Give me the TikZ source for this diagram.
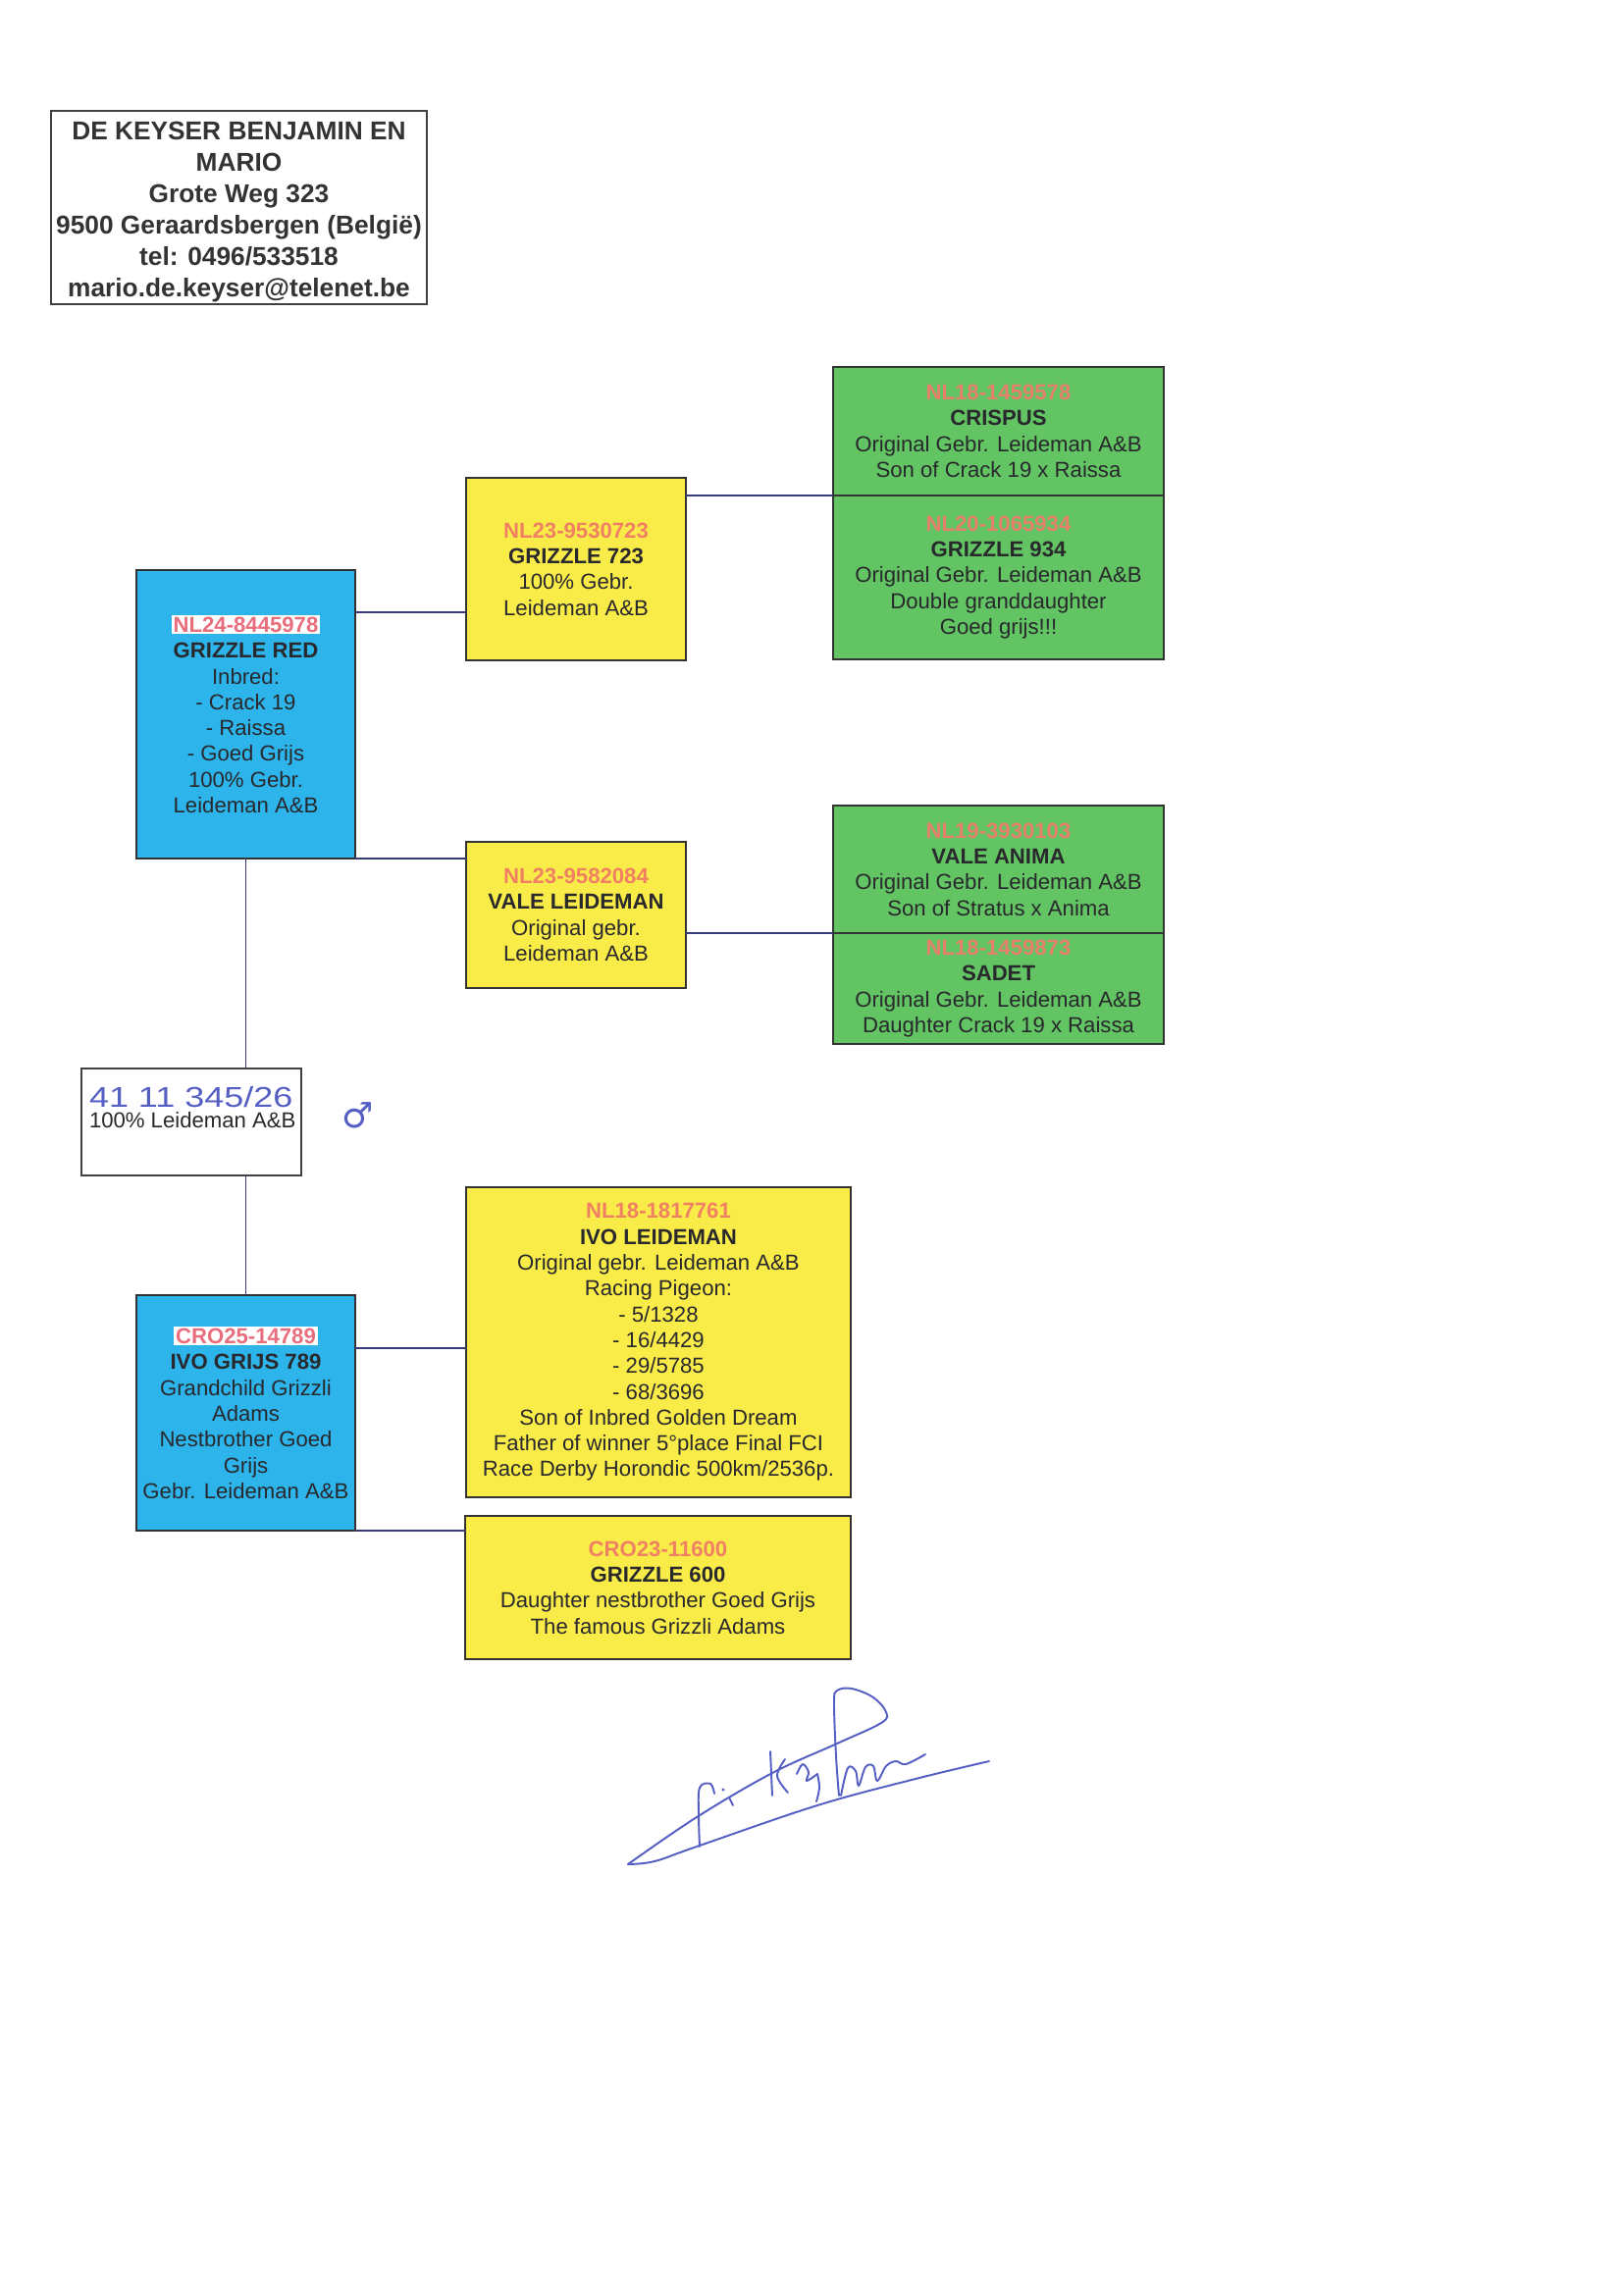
\documentclass[tikz,border=0pt]{standalone}
\usepackage{fontspec}
\usepackage{graphicx}
\setmainfont{Liberation Sans}
\newfontfamily\symfont{DejaVu Sans}
\definecolor{boxblue}{RGB}{45,180,235}
\definecolor{boxyellow}{RGB}{250,236,72}
\definecolor{boxgreen}{RGB}{98,196,98}
\definecolor{idpink}{RGB}{232,110,125}
\definecolor{idorange}{RGB}{240,128,100}
\definecolor{idgreen}{RGB}{232,128,110}
\definecolor{ink}{RGB}{40,40,45}
\definecolor{linkblue}{RGB}{55,60,120}
\definecolor{pen}{RGB}{85,95,195}
\newdimen\px \px=0.127mm
\newcommand{\idhl}[1]{{\setlength{\fboxsep}{0.6pt}\colorbox{white}{\textcolor{idpink}{\textbf{#1}}}}}
\newcommand{\idy}[1]{\textcolor{idorange}{\textbf{#1}}}
\newcommand{\idg}[1]{\textcolor{idgreen}{\textbf{#1}}}
\begin{document}
\begin{tikzpicture}[x=0.127mm,y=-0.127mm,
  every node/.style={inner sep=0pt, outer sep=0pt, text=ink},
  pbox/.style={draw=black!80, line width=0.6pt, align=center, font=\fontsize{8}{9.5}\selectfont},
  bluebox/.style={pbox, fill=boxblue},
  yellowbox/.style={pbox, fill=boxyellow},
  greenbox/.style={pbox, fill=boxgreen, minimum width=337\px},
  link/.style={draw=linkblue, line width=0.5pt},
  sig/.style={draw=pen, line width=0.7pt, line cap=round, line join=round}]
\fill[white] (0,0) rectangle (1654,2337);
\useasboundingbox (0,0) rectangle (1654,2337);

% header
\node[draw=black!75, line width=0.6pt, minimum width=383\px, minimum height=197\px] (hdr) at (243.5,211.5) {};
\node[align=center, font=\fontsize{9.5}{11.5}\selectfont\bfseries, text=black!80] (hdrtext) at (243.5,216)
  {DE KEYSER BENJAMIN EN\\MARIO\\Grote Weg 323\\9500 Geraardsbergen (België)\\tel: 0496/533518\\mario.de.keyser@telenet.be};

% generation 3 (green)
\node[greenbox, minimum height=131\px] (g1) at (1017.5,439.5)
  {\idg{NL18-1459578}\\\textbf{CRISPUS}\\Original Gebr. Leideman A\&B\\Son of Crack 19 x Raissa};
\node[greenbox, minimum height=167\px] (g2) at (1017.5,588.5)
  {\idg{NL20-1065934}\\\textbf{GRIZZLE 934}\\Original Gebr. Leideman A\&B\\Double granddaughter\\Goed grijs!!!};
\node[greenbox, minimum height=130\px] (g3) at (1017.5,886)
  {\idg{NL19-3930103}\\\textbf{VALE ANIMA}\\Original Gebr. Leideman A\&B\\Son of Stratus x Anima};
\node[greenbox, minimum height=113\px] (g4) at (1017.5,1007.5)
  {\idg{NL18-1459873}\\\textbf{SADET}\\Original Gebr. Leideman A\&B\\Daughter Crack 19 x Raissa};

% generation 2 (yellow)
\node[yellowbox, minimum width=224\px, minimum height=186\px] (y1) at (587,580)
  {\idy{NL23-9530723}\\\textbf{GRIZZLE 723}\\100\% Gebr.\\Leideman A\&B};
\node[yellowbox, minimum width=224\px, minimum height=149\px] (y2) at (587,932.5)
  {\idy{NL23-9582084}\\\textbf{VALE LEIDEMAN}\\Original gebr.\\Leideman A\&B};
\node[yellowbox, minimum width=392\px, minimum height=316\px] (y3) at (671,1368)
  {\idy{NL18-1817761}\\\textbf{IVO LEIDEMAN}\\Original gebr. Leideman A\&B\\Racing Pigeon:\\- 5/1328\\- 16/4429\\- 29/5785\\- 68/3696\\Son of Inbred Golden Dream\\Father of winner 5°place Final FCI\\Race Derby Horondic 500km/2536p.};
\node[yellowbox, minimum width=393\px, minimum height=146\px] (y4) at (670.5,1618)
  {\idy{CRO23-11600}\\\textbf{GRIZZLE 600}\\Daughter nestbrother Goed Grijs\\The famous Grizzli Adams};

% generation 1 (blue)
\node[bluebox, minimum width=223\px, minimum height=294\px] (b1) at (250.5,728)
  {\idhl{NL24-8445978}\\\textbf{GRIZZLE RED}\\Inbred:\\- Crack 19\\- Raissa\\- Goed Grijs\\100\% Gebr.\\Leideman A\&B};
\node[bluebox, minimum width=223\px, minimum height=240\px] (b2) at (250.5,1440)
  {\idhl{CRO25-14789}\\\textbf{IVO GRIJS 789}\\Grandchild Grizzli\\Adams\\Nestbrother Goed\\Grijs\\Gebr. Leideman A\&B};

% child box
\node[draw=black!75, line width=0.6pt, fill=white, minimum width=224\px, minimum height=109\px] (sire) at (195,1143.5) {};
\node[anchor=base west, font=\fontsize{8}{9.5}\selectfont] (sirelbl) at (91,1149) {100\% Leideman A\&B};
\node[anchor=base west, text=pen, font=\fontsize{10}{10}\selectfont] (hw) at (91,1128) {\scalebox{1.3}[1.05]{41 11 345/26}};
\node[text=pen, font=\symfont\fontsize{13}{13}\selectfont] (male) at (365,1137) {♂};

% connectors
\draw[link] (b1.east |- 0,624) -- (y1.west |- 0,624);
\draw[link] (b1.south east) -- (b1.south east -| y2.west);
\draw[link] (y1.east |- g1.south) -- (g1.south west);
\draw[link] (y2.east |- g3.south) -- (g3.south west);
\draw[link] (b1.south) -- (b1.south |- sire.north);
\draw[link] (sire.south -| b2.north) -- (b2.north);
\draw[link] (b2.east |- 0,1374) -- (y3.west |- 0,1374);
\draw[link] (b2.south east) -- (b2.south east -| y4.west);

% signature
\draw[sig] plot[smooth, tension=0.6] coordinates {(640,1900) (710,1852) (787,1807) (853,1777) (898,1756) (903,1745) (890,1730) (868,1721) (853,1723) (850,1735) (852,1790) (855,1830)};
\draw[sig] plot[smooth, tension=0.6] coordinates {(640,1900) (667,1897) (710,1882) (833,1840) (933,1813) (1008,1795)};
\draw[sig] plot[smooth, tension=0.6] coordinates {(713,1882) (712,1850) (713,1822) (724,1818) (728,1828)};
\draw[sig] (743,1832) -- (747,1840);
\fill[pen] (737,1824) circle (1.6);
\draw[sig] (785,1785) -- (787,1830);
\draw[sig] plot[smooth, tension=0.6] coordinates {(800,1793) (792,1810) (803,1827)};
\draw[sig] plot[smooth, tension=0.6] coordinates {(812,1808) (818,1798) (824,1806) (822,1815) (833,1808)};
\draw[sig] plot[smooth, tension=0.6] coordinates {(833,1808) (835,1822) (832,1836)};
\draw[sig] plot[smooth, tension=0.6] coordinates {(857,1830) (864,1802) (872,1805) (875,1820) (882,1801) (890,1800) (894,1815) (903,1800) (913,1795) (923,1798) (943,1788)};
\end{tikzpicture}
\end{document}
